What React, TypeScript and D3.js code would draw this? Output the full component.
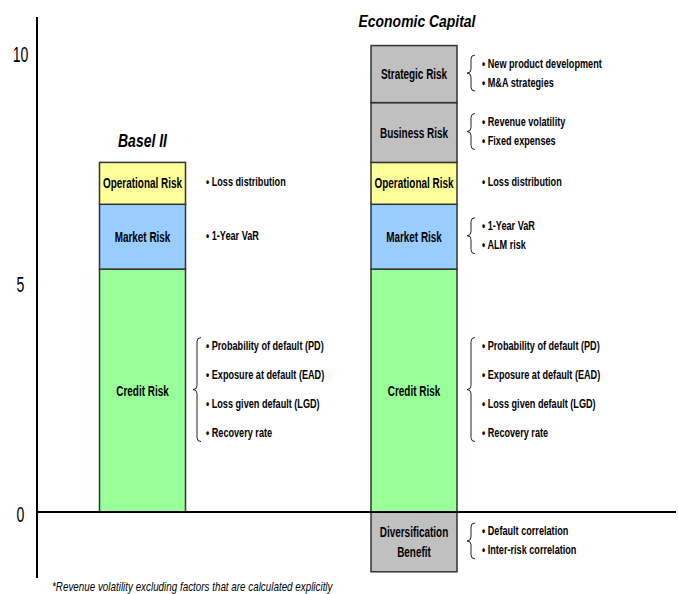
import React from "react";
import * as d3 from "d3";

// ---- Data ----
const columns = ["Basel II", "Economic Capital"];
const baselSegments = ["Credit Risk", "Market Risk", "Operational Risk"];
const baselValues = [5.28, 1.41, 0.91];
const ecSegments = ["Credit Risk", "Market Risk", "Operational Risk", "Business Risk", "Strategic Risk"];
const ecValues = [5.28, 1.41, 0.91, 1.3, 1.24];
const diversificationLabel = ["Diversification", "Benefit"];
const diversificationValue = -1.3;
const yTicks = [0, 5, 10];

const baselBullets: string[][] = [
  ["Probability of default (PD)", "Exposure at default (EAD)", "Loss given default (LGD)", "Recovery rate"],
  ["1-Year VaR"],
  ["Loss distribution"],
];
const ecBullets: string[][] = [
  ["Probability of default (PD)", "Exposure at default (EAD)", "Loss given default (LGD)", "Recovery rate"],
  ["1-Year VaR", "ALM risk"],
  ["Loss distribution"],
  ["Revenue volatility", "Fixed expenses"],
  ["New product development", "M&A strategies"],
];
const diversificationBullets = ["Default correlation", "Inter-risk correlation"];
const footnote = "*Revenue volatility excluding factors that are calculated explicitly";

// ---- Styles ----
const W = 678;
const H = 594;
const FONT = "'Liberation Sans', Arial, sans-serif";
const colorOf: Record<string, string> = {
  "Credit Risk": "#99FF99",
  "Market Risk": "#99CCFF",
  "Operational Risk": "#FFFF99",
  "Business Risk": "#C0C0C0",
  "Strategic Risk": "#C0C0C0",
};
const divColor = "#C0C0C0";
const barWidth = 86;
const axisX = 37;
const LABEL_SIZE = 14;
const LABEL_SCALE = 0.71;
const BULLET_SIZE = 12.5;
const BULLET_SCALE = 0.73;

const y = d3.scaleLinear().domain([0, 10]).range([512, 52]);
const x = d3.scalePoint<string>().domain(columns).range([142.5, 414]);

function NText({
  x: tx,
  y: ty,
  children,
  anchor = "start",
  size = 12,
  scale = 0.82,
  bold = true,
  italic = false,
}: {
  x: number;
  y: number;
  children: React.ReactNode;
  anchor?: string;
  size?: number;
  scale?: number;
  bold?: boolean;
  italic?: boolean;
}) {
  return (
    <text
      transform={`translate(${tx},${ty}) scale(${scale},1)`}
      textAnchor={anchor}
      fontFamily={FONT}
      fontWeight={bold ? "bold" : "normal"}
      fontStyle={italic ? "italic" : "normal"}
      fontSize={size}
      fill="#000"
    >
      {children}
    </text>
  );
}

function bracePath(xt: number, y0: number, y1: number, w: number) {
  const xm = xt + w / 2;
  const xe = xt + w;
  const ym = (y0 + y1) / 2;
  const r = Math.min(4, (y1 - y0) / 4);
  return `M${xe},${y0} Q${xm},${y0} ${xm},${y0 + r} L${xm},${ym - r} Q${xm},${ym} ${xt},${ym} Q${xm},${ym} ${xm},${ym + r} L${xm},${y1 - r} Q${xm},${y1} ${xe},${y1}`;
}

function BulletList({ items, cy, tx, bx }: { items: string[]; cy: number; tx: number; bx: number }) {
  const n = items.length;
  const sp = n > 2 ? 29 : 19;
  const mid = cy + 3;
  return (
    <g>
      {n > 1 && (
        <path
          d={bracePath(bx, mid - 4 - ((n - 1) / 2) * sp - 8.5, mid - 4 + ((n - 1) / 2) * sp + 8.5, 8)}
          fill="none"
          stroke="#222"
          strokeWidth={1}
        />
      )}
      {items.map((t, i) => (
        <NText key={t} x={tx} y={mid + (i - (n - 1) / 2) * sp} size={BULLET_SIZE} scale={BULLET_SCALE}>
          {"\u2022 " + t}
        </NText>
      ))}
    </g>
  );
}

function Stack({ col, segs, vals, bullets, tx, bx }: { col: string; segs: string[]; vals: number[]; bullets: string[][]; tx: number; bx: number }) {
  const cx = x(col) as number;
  let acc = 0;
  const rects = segs.map((s, i) => {
    const v0 = acc;
    acc += vals[i];
    return { s, v0, v1: acc, items: bullets[i] };
  });
  return (
    <g>
      {rects.map((r) => {
        const top = y(r.v1);
        const bot = y(r.v0);
        const cy = (top + bot) / 2;
        return (
          <g key={r.s}>
            <rect x={cx - barWidth / 2} y={top} width={barWidth} height={bot - top} fill={colorOf[r.s]} stroke="#333" strokeWidth={1.5} />
            <NText x={cx} y={cy + 5} anchor="middle" size={LABEL_SIZE} scale={LABEL_SCALE}>
              {r.s}
            </NText>
            <BulletList items={r.items} cy={cy} tx={tx} bx={bx} />
          </g>
        );
      })}
    </g>
  );
}

export default function App() {
  const ecX = x("Economic Capital") as number;
  const baselTop = y(d3.sum(baselValues));
  const divTop = y(0);
  const divBot = y(diversificationValue);
  const divCy = (divTop + divBot) / 2;
  return (
    <svg width={W} height={H} style={{ position: "absolute", left: 0, top: 0, background: "#fff" }}>
      <rect width={W} height={H} fill="#fff" />
      {/* titles */}
      <NText x={x("Basel II") as number} y={baselTop - 15} anchor="middle" size={17.5} scale={0.8} italic>
        Basel II
      </NText>
      <NText x={ecX + 3} y={27} anchor="middle" size={17} scale={0.82} italic>
        Economic Capital
      </NText>

      <Stack col="Basel II" segs={baselSegments} vals={baselValues} bullets={baselBullets} tx={206} bx={193} />
      <Stack col="Economic Capital" segs={ecSegments} vals={ecValues} bullets={ecBullets} tx={482} bx={467} />

      {/* diversification */}
      <rect x={ecX - barWidth / 2} y={divTop} width={barWidth} height={divBot - divTop} fill={divColor} stroke="#333" strokeWidth={1.5} />
      {diversificationLabel.map((t, i) => (
        <NText key={t} x={ecX} y={divCy + 5 + (i - 0.5) * 20} anchor="middle" size={LABEL_SIZE} scale={LABEL_SCALE}>
          {t}
        </NText>
      ))}
      <BulletList items={diversificationBullets} cy={divCy} tx={482} bx={467} />

      {/* axes */}
      <line x1={axisX} x2={axisX} y1={17} y2={578} stroke="#000" strokeWidth={2} />
      <line x1={axisX} x2={676} y1={y(0)} y2={y(0)} stroke="#000" strokeWidth={2} />
      {yTicks.map((t) => (
        <NText key={t} x={20.5} y={y(t) + 9.5} anchor="middle" size={22} scale={0.64} bold={false}>
          {t}
        </NText>
      ))}

      <NText x={52} y={591} size={12} scale={0.82} bold={false} italic>
        {footnote}
      </NText>
    </svg>
  );
}
